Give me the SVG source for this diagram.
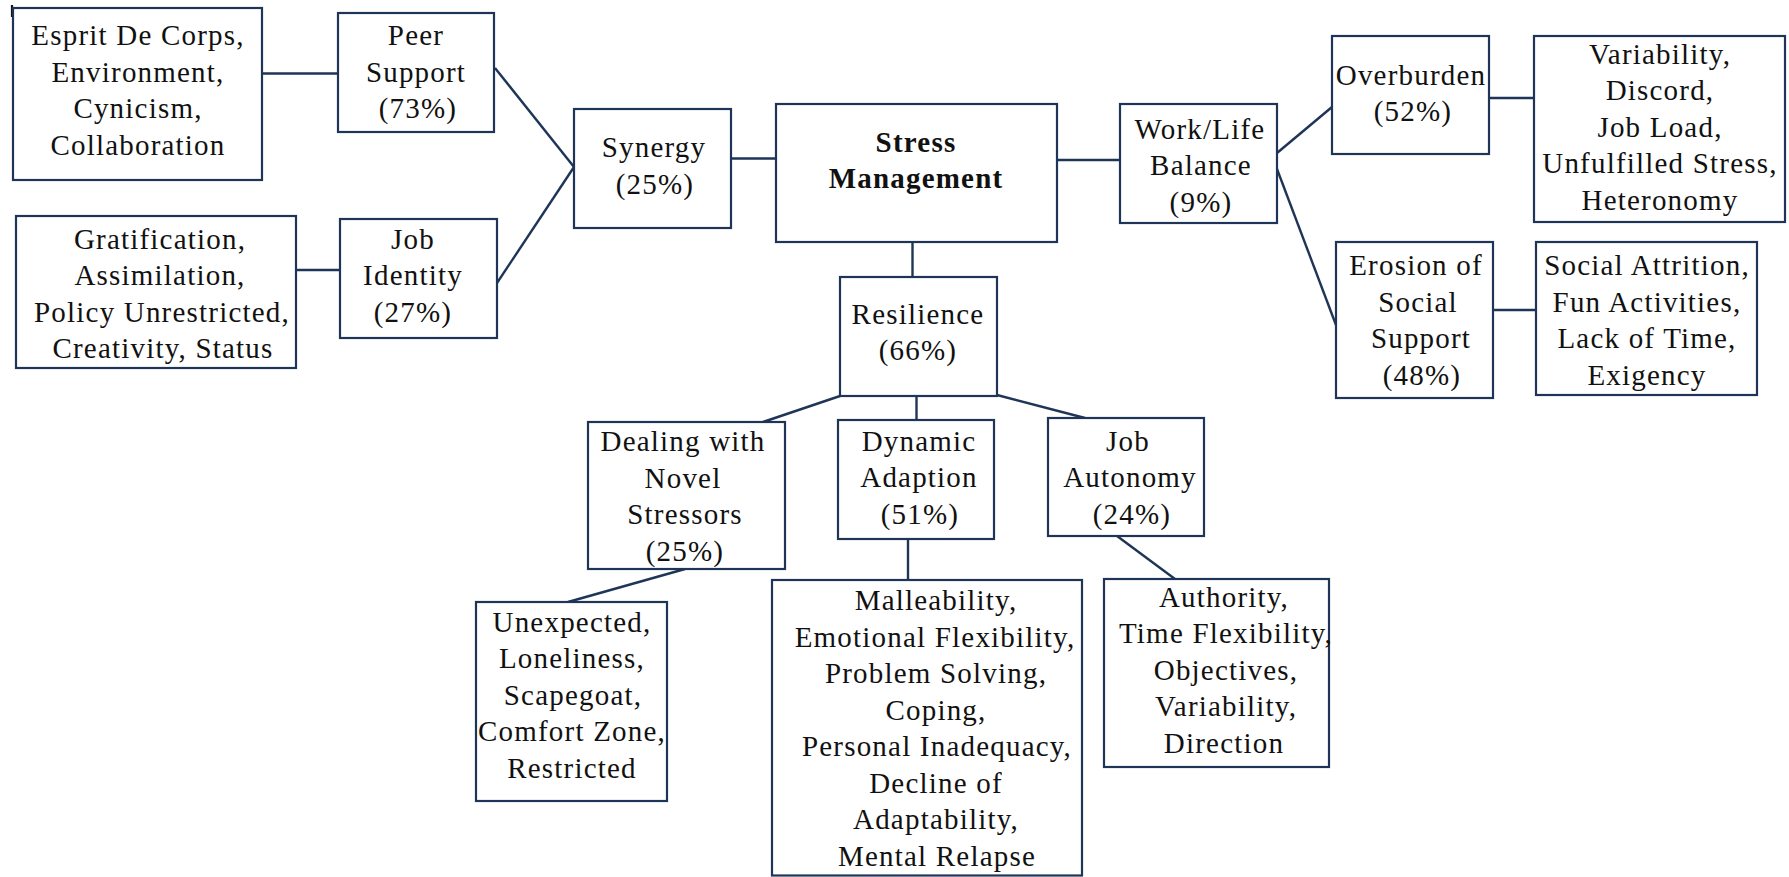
<svg xmlns="http://www.w3.org/2000/svg" width="1789" height="877" viewBox="0 0 1789 877" font-family="Liberation Serif, Times New Roman, Tinos, Noto Serif, DejaVu Serif, FreeSerif, serif">
<style>
.box{fill:#fff;stroke:#1f3557;stroke-width:2.2}
.c{stroke:#1f3557;stroke-width:2.4;fill:none}
text{font-size:29px;letter-spacing:1.2px;fill:#111;text-anchor:middle}
.b{font-weight:bold}
</style>
<rect width="1789" height="877" fill="#fff"/>
<line x1="12" y1="5" x2="12" y2="17" stroke="#111" stroke-width="2.2"/>
<g id="connectors">
<line class="c" x1="262" y1="73.5" x2="338" y2="73.5"/>
<line class="c" x1="296" y1="270" x2="340" y2="270"/>
<line class="c" x1="495" y1="68" x2="574" y2="167"/>
<line class="c" x1="497" y1="283" x2="574" y2="167"/>
<line class="c" x1="731" y1="158.5" x2="776" y2="158.5"/>
<line class="c" x1="1057" y1="160" x2="1120" y2="160"/>
<line class="c" x1="1277" y1="153" x2="1332" y2="107"/>
<line class="c" x1="1277" y1="169" x2="1336" y2="325"/>
<line class="c" x1="1489" y1="98" x2="1534" y2="98"/>
<line class="c" x1="1493" y1="310" x2="1536" y2="310"/>
<line class="c" x1="912.5" y1="242" x2="912.5" y2="277"/>
<line class="c" x1="840" y1="396" x2="763" y2="422"/>
<line class="c" x1="916.5" y1="396" x2="916.5" y2="420"/>
<line class="c" x1="997" y1="395" x2="1085" y2="418"/>
<line class="c" x1="685" y1="569" x2="568" y2="602"/>
<line class="c" x1="908" y1="539" x2="908" y2="580"/>
<line class="c" x1="1117" y1="536" x2="1175" y2="579"/>
</g>
<g id="esprit"><rect class="box" x="13" y="8" width="249" height="172"/>
<text x="138" y="45">Esprit De Corps,</text><text x="138" y="81.5">Environment,</text><text x="138" y="118">Cynicism,</text><text x="138" y="154.5">Collaboration</text></g>
<g id="peer"><rect class="box" x="338" y="13" width="156" height="119"/>
<text x="416" y="45">Peer</text><text x="416" y="81.5">Support</text><text x="418" y="118">(73%)</text></g>
<g id="gratification"><rect class="box" x="16" y="216" width="280" height="152"/>
<text x="160" y="248.5">Gratification,</text><text x="160" y="285">Assimilation,</text><text x="162" y="321.5">Policy Unrestricted,</text><text x="163" y="358">Creativity, Status</text></g>
<g id="jobidentity"><rect class="box" x="340" y="219" width="157" height="119"/>
<text x="413" y="248.5">Job</text><text x="413" y="285">Identity</text><text x="413" y="321.5">(27%)</text></g>
<g id="synergy"><rect class="box" x="574" y="109" width="157" height="119"/>
<text x="654" y="157">Synergy</text><text x="655" y="193.5">(25%)</text></g>
<g id="stress"><rect class="box" x="776" y="104" width="281" height="138"/>
<text class="b" x="916" y="151.5">Stress</text><text class="b" x="916" y="188">Management</text></g>
<g id="worklife"><rect class="box" x="1120" y="104" width="157" height="119"/>
<text x="1200" y="138.5">Work/Life</text><text x="1201" y="175">Balance</text><text x="1201" y="211.5">(9%)</text></g>
<g id="overburden"><rect class="box" x="1332" y="36" width="157" height="118"/>
<text x="1411" y="84.5">Overburden</text><text x="1413" y="121">(52%)</text></g>
<g id="variability"><rect class="box" x="1534" y="36" width="251" height="186"/>
<text x="1660" y="63.5">Variability,</text><text x="1660" y="100">Discord,</text><text x="1660" y="136.5">Job Load,</text><text x="1660" y="173">Unfulfilled Stress,</text><text x="1660" y="209.5">Heteronomy</text></g>
<g id="erosion"><rect class="box" x="1336" y="242" width="157" height="156"/>
<text x="1416" y="275">Erosion of</text><text x="1418" y="311.5">Social</text><text x="1421" y="348">Support</text><text x="1422" y="384.5">(48%)</text></g>
<g id="socialattrition"><rect class="box" x="1536" y="242" width="221" height="153"/>
<text x="1647" y="275">Social Attrition,</text><text x="1647" y="311.5">Fun Activities,</text><text x="1647" y="348">Lack of Time,</text><text x="1647" y="384.5">Exigency</text></g>
<g id="resilience"><rect class="box" x="840" y="277" width="157" height="119"/>
<text x="918" y="323.5">Resilience</text><text x="918" y="360">(66%)</text></g>
<g id="dealing"><rect class="box" x="588" y="422" width="197" height="147"/>
<text x="683" y="451">Dealing with</text><text x="683" y="487.5">Novel</text><text x="685" y="524">Stressors</text><text x="685" y="560.5">(25%)</text></g>
<g id="dynamic"><rect class="box" x="838" y="420" width="156" height="119"/>
<text x="919" y="450.5">Dynamic</text><text x="919" y="487">Adaption</text><text x="920" y="523.5">(51%)</text></g>
<g id="jobautonomy"><rect class="box" x="1048" y="418" width="156" height="118"/>
<text x="1128" y="450.5">Job</text><text x="1130" y="487">Autonomy</text><text x="1132" y="523.5">(24%)</text></g>
<g id="unexpected"><rect class="box" x="476" y="602" width="191" height="199"/>
<text x="572" y="631.5">Unexpected,</text><text x="572" y="668">Loneliness,</text><text x="573" y="704.5">Scapegoat,</text><text x="572" y="741">Comfort Zone,</text><text x="572" y="777.5">Restricted</text></g>
<g id="malleability"><rect class="box" x="772" y="580" width="310" height="295.5"/>
<text x="936" y="610">Malleability,</text><text x="935" y="646.5">Emotional Flexibility,</text><text x="936" y="683">Problem Solving,</text><text x="936" y="719.5">Coping,</text><text x="937" y="756">Personal Inadequacy,</text><text x="936" y="792.5">Decline of</text><text x="936" y="829">Adaptability,</text><text x="937" y="865.5">Mental Relapse</text></g>
<g id="authority"><rect class="box" x="1104" y="579" width="225" height="188"/>
<text x="1224" y="606.5">Authority,</text><text x="1226" y="643">Time Flexibility,</text><text x="1226" y="679.5">Objectives,</text><text x="1226" y="716">Variability,</text><text x="1224" y="752.5">Direction</text></g>
</svg>
